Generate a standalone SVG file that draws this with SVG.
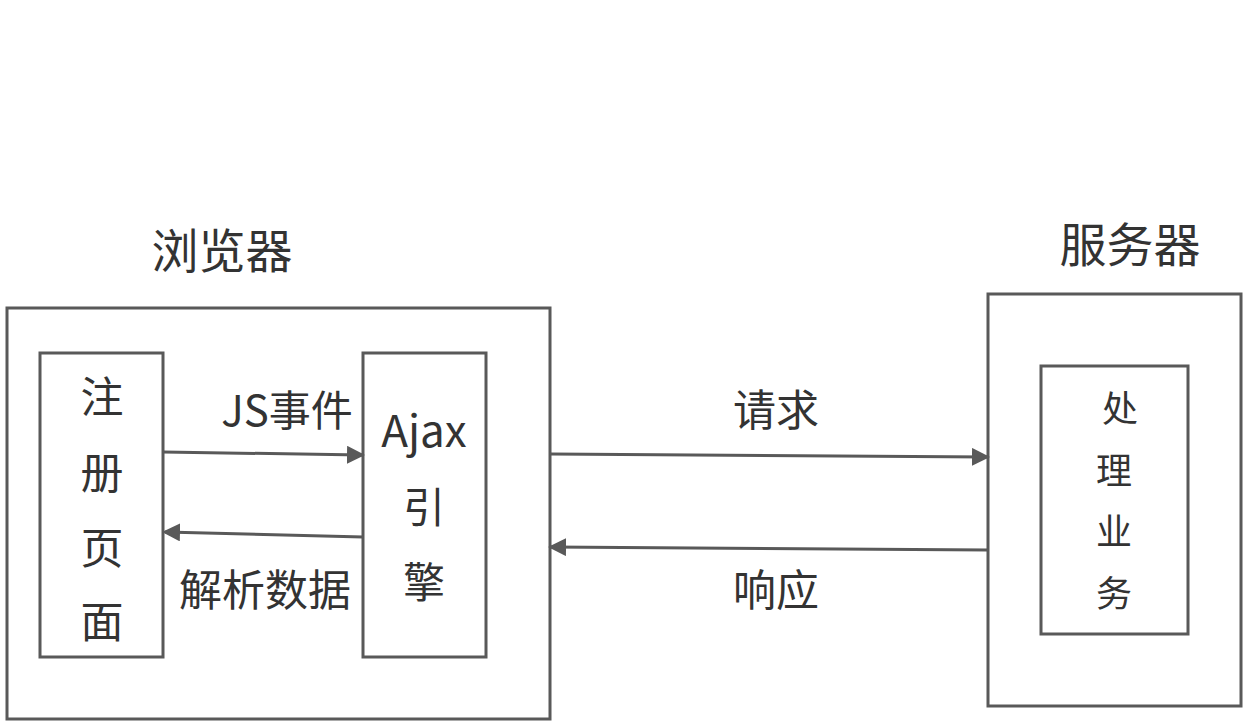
<svg xmlns="http://www.w3.org/2000/svg" width="1248" height="723" viewBox="0 0 1248 723">
<style>
.box{fill:#fff;stroke:#595959;stroke-width:3}
.t{font-family:"Noto Sans CJK SC","Noto Sans",sans-serif;fill:#333;text-anchor:middle}
.ln{stroke:#595959;stroke-width:3;fill:none;marker-end:url(#ah)}
</style>
<defs>
<marker id="ah" markerWidth="6" markerHeight="6" refX="5" refY="3" orient="auto" markerUnits="strokeWidth">
<path d="M0,0 L6,3 L0,6 z" fill="#595959"/>
</marker>
</defs>
<rect width="1248" height="723" fill="#fff"/>
<g id="browser">
<rect class="box" x="7" y="308" width="543" height="411"/>
<text class="t" x="222" y="268" font-size="47">浏览器</text>
</g>
<g id="register">
<rect class="box" x="40" y="353" width="123" height="304"/>
<text class="t" x="102" y="413" font-size="43">注</text>
<text class="t" x="102" y="489" font-size="43">册</text>
<text class="t" x="102" y="564" font-size="43">页</text>
<text class="t" x="102" y="638" font-size="43">面</text>
</g>
<g id="ajax">
<rect class="box" x="363" y="353" width="123" height="304"/>
<text class="t" x="424" y="447" font-size="44">Ajax</text>
<text class="t" x="424" y="523" font-size="42">引</text>
<text class="t" x="424" y="598" font-size="42">擎</text>
</g>
<g id="server">
<rect class="box" x="988" y="294" width="253" height="412"/>
<text class="t" x="1130" y="262" font-size="47">服务器</text>
</g>
<g id="process">
<rect class="box" x="1041" y="366" width="147" height="268"/>
<text class="t" x="1120" y="422" font-size="36">处</text>
<text class="t" x="1114" y="484" font-size="36">理</text>
<text class="t" x="1114" y="545" font-size="36">业</text>
<text class="t" x="1114" y="607" font-size="36">务</text>
</g>
<g id="connectors">
<line class="ln" x1="163" y1="452" x2="362" y2="455"/>
<line class="ln" x1="363" y1="537" x2="165" y2="532"/>
<line class="ln" x1="551" y1="454" x2="987" y2="457"/>
<line class="ln" x1="988" y1="550" x2="551" y2="547"/>
<text class="t" x="287" y="426" font-size="42">JS事件</text>
<text class="t" x="265" y="606" font-size="43">解析数据</text>
<text class="t" x="776" y="426" font-size="43">请求</text>
<text class="t" x="776" y="606" font-size="43">响应</text>
</g>
</svg>
